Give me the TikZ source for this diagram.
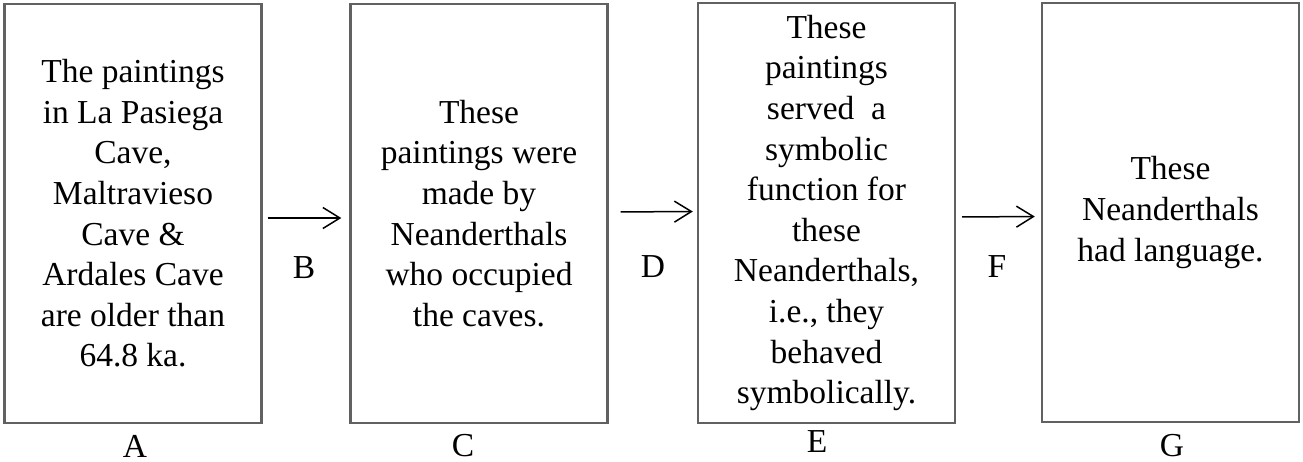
\documentclass[tikz,border=0pt]{standalone}
\usepackage{fontspec}
\setmainfont{Liberation Serif}
\usetikzlibrary{arrows.meta}
\begin{document}
\begin{tikzpicture}[x=1pt,y=-1pt,
  stmt/.style={draw=black!62, line width=2.4pt, rectangle, minimum width=257pt, minimum height=419pt, inner sep=0pt,
    align=center, font=\fontsize{33.5}{40.6}\selectfont},
  lab/.style={font=\fontsize{33.5}{36}\selectfont, inner sep=0pt},
  arr/.style={draw=black, line width=1.5pt, -{Straight Barb[length=17pt,width=21pt,line width=1.5pt]}}]
\useasboundingbox (0,0) rectangle (1303,461);
\node[stmt] (boxA) at (133,213.5) {The paintings\\in La Pasiega\\Cave,\\Maltravieso\\Cave \&\\Ardales Cave\\are older than\\64.8 ka.};
\node[stmt] (boxC) at (479,213.5) {These\\paintings were\\made by\\Neanderthals\\who occupied\\the caves.};
\node[stmt, minimum height=420pt] (boxE) at (826.5,213) {These\\paintings\\served\ \ a\\symbolic\\function for\\these\\Neanderthals,\\i.e., they\\behaved\\symbolically.};
\node[stmt] (boxG) at (1170.5,212.5) {These\\Neanderthals\\had language.};
\draw[arr, shorten <=5pt, shorten >=8pt] ([yshift=-4.5pt]boxA.east) -- ([yshift=-4.5pt]boxC.west);
\draw[arr, shorten <=12pt, shorten >=4pt] ([yshift=1.5pt]boxC.east) -- ([yshift=1.5pt]boxE.west);
\draw[arr, shorten <=6pt, shorten >=6pt] ([yshift=-4pt]boxE.east) -- ([yshift=-4pt]boxG.west);
\node[lab] (labA) at (135,446) {A};
\node[lab] (labB) at (304,268) {B};
\node[lab] (labC) at (463,446) {C};
\node[lab] (labD) at (653,267) {D};
\node[lab] (labE) at (817,442) {E};
\node[lab] (labF) at (997,267) {F};
\node[lab] (labG) at (1172,446) {G};
\end{tikzpicture}
\end{document}
